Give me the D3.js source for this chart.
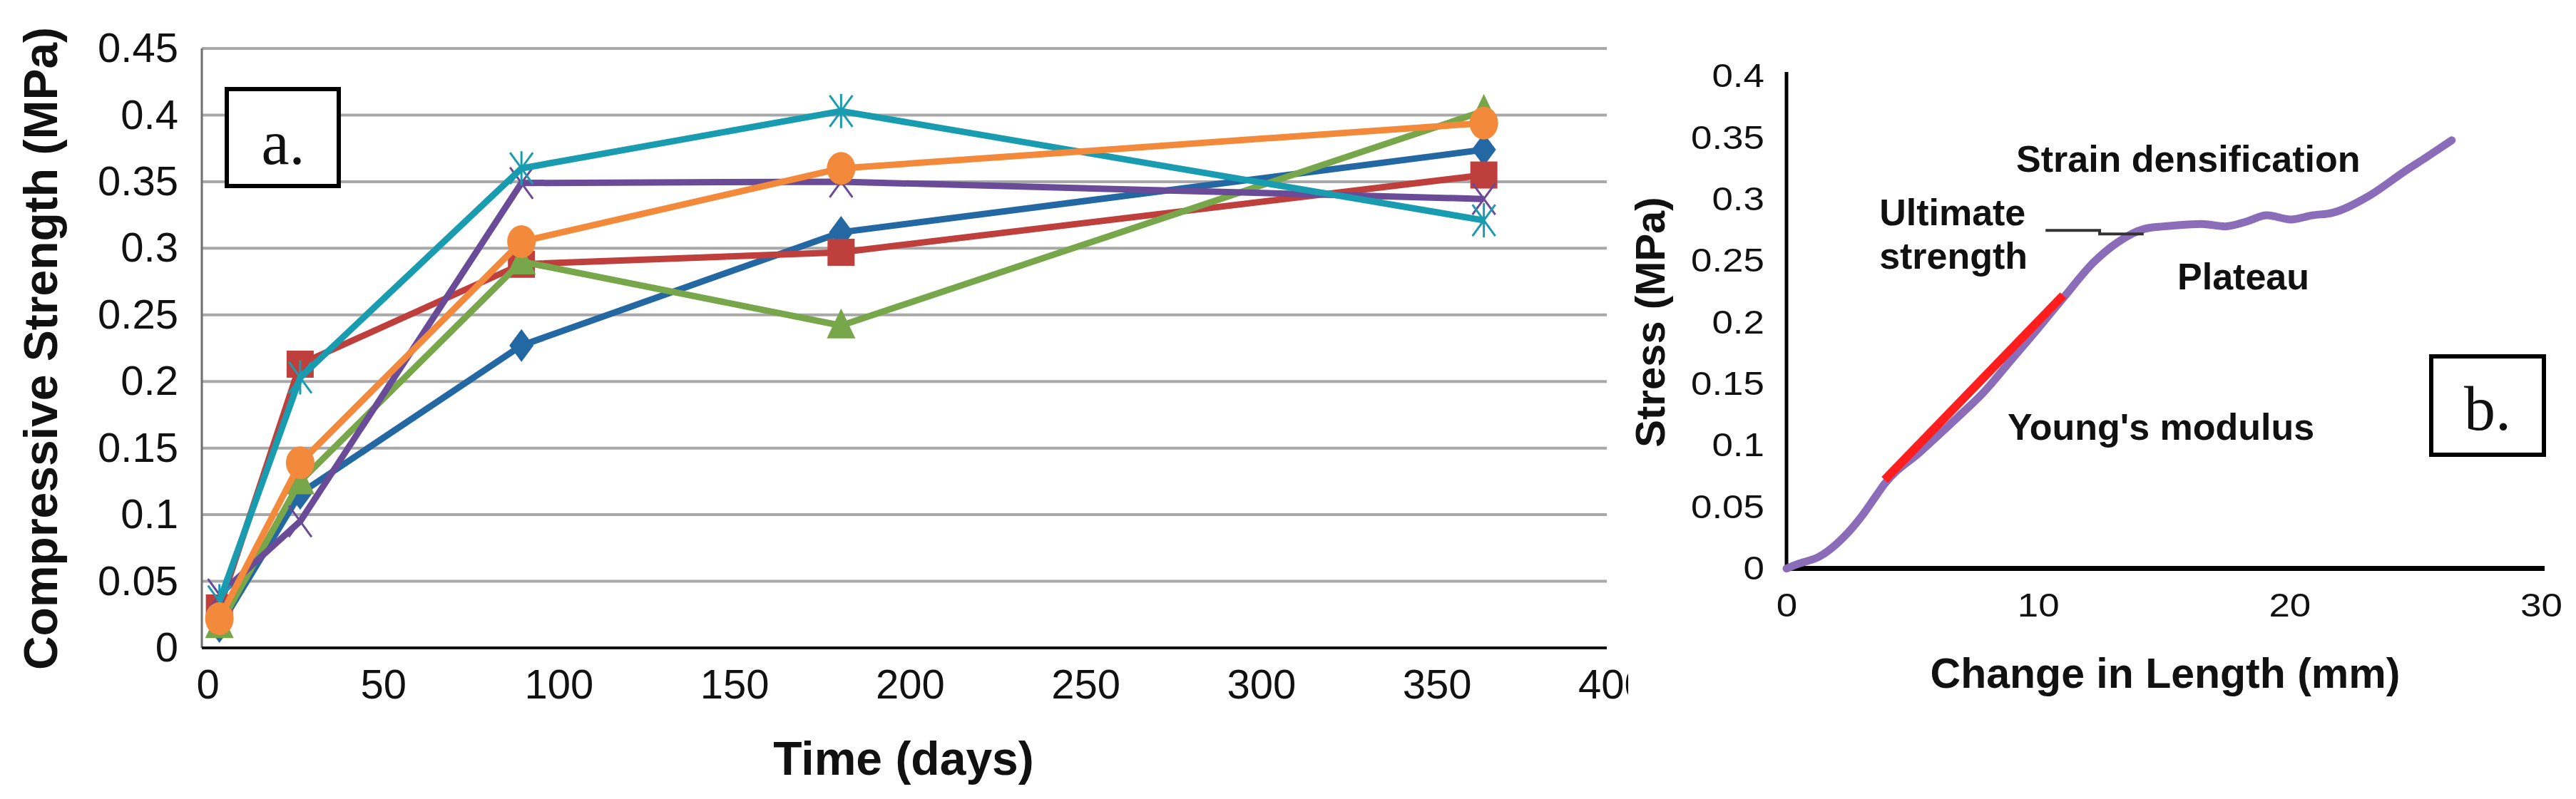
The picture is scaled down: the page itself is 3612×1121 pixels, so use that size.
<!DOCTYPE html>
<html>
<head>
<meta charset="utf-8">
<script src="https://cdn.jsdelivr.net/npm/d3@7"></script>
<style>
  body { margin: 0; background: #fff; }
  text { font-family: "Liberation Sans", Arial, sans-serif; fill: #111; }
</style>
</head>
<body>
<script>
var svgWidth = 3612;
var svgHeight = 1121;

// ---- panel a : compressive strength vs time ----
var days = [5, 28, 91, 182, 365];
var blueDiamond   = [0.016, 0.116, 0.227, 0.312, 0.374];
var redSquare     = [0.030, 0.213, 0.288, 0.297, 0.355];
var greenTriangle = [0.017, 0.125, 0.290, 0.242, 0.403];
var purpleCross   = [0.040, 0.095, 0.349, 0.350, 0.337];
var tealStar      = [0.035, 0.203, 0.360, 0.403, 0.321];
var orangeCircle  = [0.022, 0.139, 0.305, 0.360, 0.394];
var aTicksX = [0, 50, 100, 150, 200, 250, 300, 350, 400];
var aTicksY = [0, 0.05, 0.1, 0.15, 0.2, 0.25, 0.3, 0.35, 0.4, 0.45];

// ---- panel b : stress vs change in length ----
var curveX = [0, 0.5, 1.3, 2.25, 2.97, 3.56, 3.91, 5.33, 6.76, 7.83, 9.0, 10.0, 11.03, 12.22, 13.16, 14.23,
              15.0, 15.54, 16.5, 17.44, 18.3, 19.1, 20.05, 20.9, 21.7, 23.14, 24.56, 25.5, 26.45];
var curveY = [0, 0.004, 0.0096, 0.025, 0.042, 0.059, 0.069, 0.095, 0.122, 0.143, 0.171, 0.195, 0.2205, 0.249, 0.265, 0.276,
              0.278, 0.279, 0.280, 0.278, 0.282, 0.287, 0.2836, 0.287, 0.289, 0.3025, 0.3225, 0.335, 0.348];
var modulusX = [3.9, 11.0];
var modulusY = [0.072, 0.222];
var bTicksX = [0, 10, 20, 30];
var bTicksY = [0, 0.05, 0.1, 0.15, 0.2, 0.25, 0.3, 0.35, 0.4];
var noteText = ["Strain densification", "Ultimate", "strength", "Plateau", "Young's modulus"];
var noteX = [9.13, 3.69, 3.69, 15.54, 8.79];
var noteY = [0.3224, 0.2789, 0.2436, 0.227, 0.1046];
var leaderX = [10.3, 12.45, 12.45, 14.2];
var leaderY = [0.2747, 0.2747, 0.2718, 0.2718];

var svg = d3.select("body").append("svg")
  .attr("width", svgWidth)
  .attr("height", svgHeight);
svg.append("rect").attr("width", svgWidth).attr("height", svgHeight).attr("fill", "#fff");

// =================== panel a ===================
var xA = d3.scaleLinear().domain([0, 400]).range([283, 2253]);
var yA = d3.scaleLinear().domain([0, 0.45]).range([909, 68]);

svg.append("clipPath").attr("id", "clipA")
  .append("rect").attr("x", 0).attr("y", 0).attr("width", 2283).attr("height", svgHeight);
var gA = svg.append("g").attr("clip-path", "url(#clipA)");

// gridlines
gA.append("g").selectAll("line")
  .data(aTicksY.filter(d => d > 0))
  .enter().append("line")
  .attr("x1", xA(0)).attr("x2", xA(400))
  .attr("y1", d => yA(d)).attr("y2", d => yA(d))
  .attr("stroke", "#a8a8a8").attr("stroke-width", 4);

// axes lines
gA.append("line")
  .attr("x1", xA(0)).attr("x2", xA(0))
  .attr("y1", yA(0.45)).attr("y2", yA(0))
  .attr("stroke", "#6f6f6f").attr("stroke-width", 3);
gA.append("line")
  .attr("x1", xA(0)).attr("x2", xA(400))
  .attr("y1", yA(0)).attr("y2", yA(0))
  .attr("stroke", "#111").attr("stroke-width", 4);

var leftA = d3.axisLeft(yA).tickValues(aTicksY).tickSize(0).tickPadding(33)
  .tickFormat(d => d3.format("")(+d.toFixed(2)));
var yAxA = gA.append("g").attr("transform", `translate(${xA(0)},0)`).call(leftA);
yAxA.select(".domain").remove();
yAxA.selectAll("text").style("font-size", "58px").style("font-family", "Liberation Sans").attr("fill", "#1a1a1a");

var bottomA = d3.axisBottom(xA).tickValues(aTicksX).tickSize(0).tickPadding(30);
var xAxA = gA.append("g").attr("transform", `translate(0,${yA(0)})`).call(bottomA);
xAxA.select(".domain").remove();
xAxA.selectAll("text").style("font-size", "58px").style("font-family", "Liberation Sans")
  .attr("fill", "#1a1a1a").attr("dx", 8);

// series
var seriesA = [
  {vals: blueDiamond,   color: "#2367a3", mark: "diamond"},
  {vals: redSquare,     color: "#bf3f3c", mark: "square"},
  {vals: greenTriangle, color: "#77a74a", mark: "triangle"},
  {vals: purpleCross,   color: "#6a4b97", mark: "cross"},
  {vals: tealStar,      color: "#1a9cb0", mark: "star"},
  {vals: orangeCircle,  color: "#f2893b", mark: "circle"}
];

var lineA = d3.line().x(d => xA(d[0])).y(d => yA(d[1]));

seriesA.forEach(function (s) {
  var pts = days.map((d, i) => [d, s.vals[i]]);
  var g = gA.append("g");
  g.append("path")
    .attr("d", lineA(pts))
    .attr("fill", "none")
    .attr("stroke", s.color)
    .attr("stroke-width", 9)
    .attr("stroke-linejoin", "round");
  var m = g.selectAll(".m").data(pts).enter().append("g")
    .attr("transform", d => `translate(${xA(d[0])},${yA(d[1])})`);
  if (s.mark == "diamond") {
    m.append("path").attr("d", "M0,-23L17,0L0,23L-17,0Z").attr("fill", s.color);
  } else if (s.mark == "square") {
    m.append("rect").attr("x", -19).attr("y", -19).attr("width", 38).attr("height", 38).attr("fill", s.color);
  } else if (s.mark == "triangle") {
    m.append("path").attr("d", "M0,-24L20,18L-20,18Z").attr("fill", s.color);
  } else if (s.mark == "cross") {
    m.append("path").attr("d", "M-16,-22L16,22M-16,22L16,-22")
      .attr("stroke", s.color).attr("stroke-width", 3).attr("fill", "none");
  } else if (s.mark == "star") {
    m.append("path").attr("d", "M-16,-22L16,22M-16,22L16,-22M0,-24L0,24")
      .attr("stroke", s.color).attr("stroke-width", 3).attr("fill", "none");
  } else {
    m.append("ellipse").attr("rx", 20).attr("ry", 23).attr("fill", s.color);
  }
});

// titles
svg.append("text")
  .attr("transform", "translate(80,489) rotate(-90)")
  .attr("text-anchor", "middle")
  .style("font-size", "66px").style("font-weight", "bold")
  .text("Compressive Strength (MPa)");
svg.append("text")
  .attr("x", 1267).attr("y", 1087)
  .attr("text-anchor", "middle")
  .style("font-size", "66px").style("font-weight", "bold")
  .text("Time (days)");

// "a." label box
svg.append("rect").attr("x", 318).attr("y", 125).attr("width", 157).attr("height", 136)
  .attr("fill", "#fff").attr("stroke", "#000").attr("stroke-width", 6);
svg.append("text").attr("x", 397).attr("y", 230).attr("text-anchor", "middle")
  .style("font-family", "Liberation Serif").style("font-size", "88px").text("a.");

// =================== panel b ===================
var xB = d3.scaleLinear().domain([0, 30]).range([2505, 3563]);
var yB = d3.scaleLinear().domain([0, 0.4]).range([797.6, 107]);
var gB = svg.append("g");

gB.append("line")
  .attr("x1", xB(0)).attr("x2", xB(0))
  .attr("y1", yB(0.4) - 6).attr("y2", yB(0))
  .attr("stroke", "#000").attr("stroke-width", 5);
gB.append("line")
  .attr("x1", xB(0)).attr("x2", xB(30) + 5)
  .attr("y1", yB(0)).attr("y2", yB(0))
  .attr("stroke", "#000").attr("stroke-width", 7);

var leftB = d3.axisLeft(yB).tickValues(bTicksY).tickSize(0).tickPadding(27)
  .tickFormat(d => d3.format("")(+d.toFixed(2)));
var yAxB = gB.append("g").attr("transform", `translate(${xB(0)},0)`).call(leftB);
yAxB.select(".domain").remove();
yAxB.selectAll("text").style("font-size", "46px").style("font-family", "Liberation Sans")
  .attr("fill", "#111").attr("transform", "scale(1.15,1)");

var bottomB = d3.axisBottom(xB).tickValues(bTicksX).tickSize(0).tickPadding(35);
var xAxB = gB.append("g").attr("transform", `translate(0,${yB(0)})`).call(bottomB);
xAxB.select(".domain").remove();
xAxB.selectAll("text").style("font-size", "46px").style("font-family", "Liberation Sans")
  .attr("fill", "#111").attr("transform", "scale(1.15,1)");

// stress curve
var lineB = d3.line().x(d => xB(d[0])).y(d => yB(d[1])).curve(d3.curveMonotoneX);
gB.append("path")
  .attr("d", lineB(curveX.map((x, i) => [x, curveY[i]])))
  .attr("fill", "none").attr("stroke", "#8a6cb8").attr("stroke-width", 11)
  .attr("stroke-linecap", "round");
gB.append("path")
  .attr("d", d3.line().x(d => xB(d[0])).y(d => yB(d[1]))(modulusX.map((x, i) => [x, modulusY[i]])))
  .attr("fill", "none").attr("stroke", "#ff1e1e").attr("stroke-width", 12);

// leader to ultimate strength
gB.append("path")
  .attr("d", d3.line().x(d => xB(d[0])).y(d => yB(d[1]))(leaderX.map((x, i) => [x, leaderY[i]])))
  .attr("fill", "none").attr("stroke", "#333").attr("stroke-width", 4);

// notes
gB.selectAll(".note").data(noteText).enter().append("text")
  .attr("x", (d, i) => xB(noteX[i]))
  .attr("y", (d, i) => yB(noteY[i]))
  .style("font-size", "52px").style("font-weight", "bold")
  .text(d => d);

// titles
svg.append("text")
  .attr("transform", "translate(2334,452) rotate(-90)")
  .attr("text-anchor", "middle")
  .style("font-size", "58px").style("font-weight", "bold")
  .text("Stress (MPa)");
svg.append("text")
  .attr("x", 3036).attr("y", 965)
  .attr("text-anchor", "middle")
  .style("font-size", "59px").style("font-weight", "bold")
  .text("Change in Length (mm)");

// "b." label box
svg.append("rect").attr("x", 3409).attr("y", 500).attr("width", 158).attr("height", 138)
  .attr("fill", "#fff").attr("stroke", "#000").attr("stroke-width", 6);
svg.append("text").attr("x", 3488).attr("y", 603).attr("text-anchor", "middle")
  .style("font-family", "Liberation Serif").style("font-size", "88px").text("b.");
</script>
</body>
</html>
